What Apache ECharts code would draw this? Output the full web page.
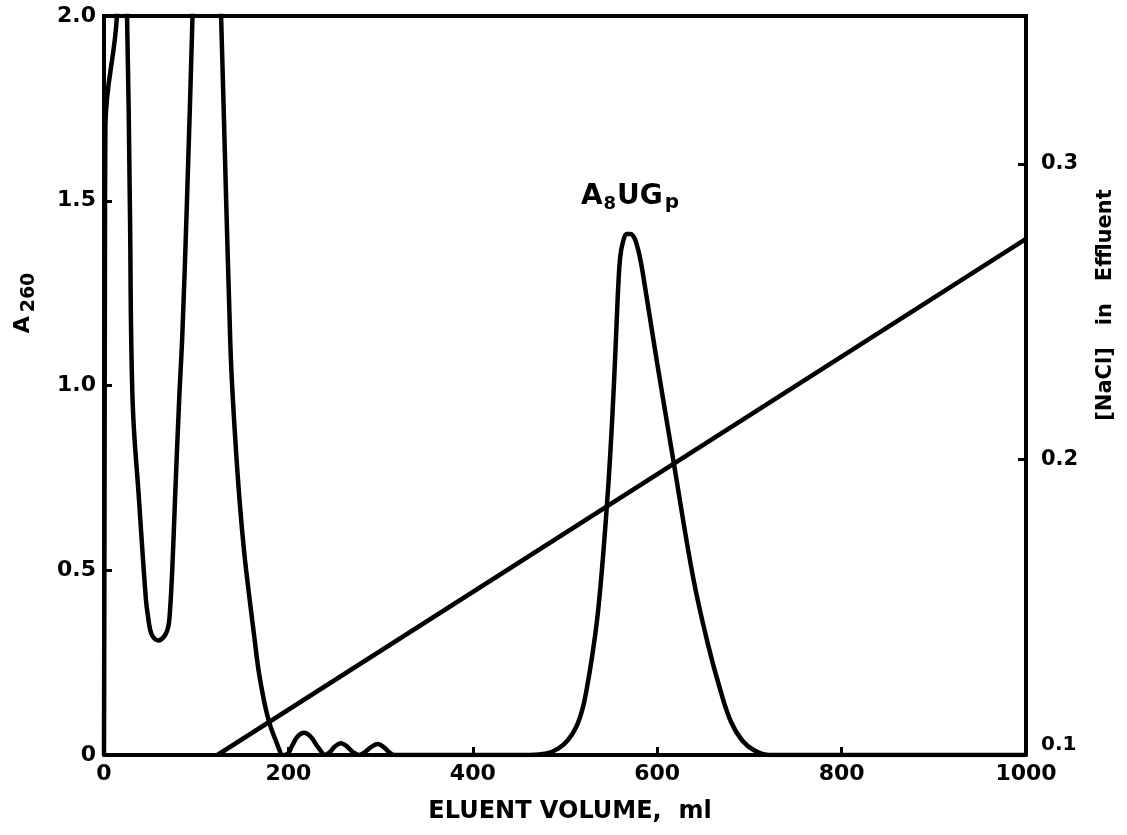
<!DOCTYPE html>
<html>
<head>
<meta charset="utf-8">
<script src="https://cdn.jsdelivr.net/npm/echarts@6/dist/echarts.min.js"></script>
<style>
html,body{margin:0;padding:0;background:#fff;}
#chart{width:1127px;height:835px;}
</style>
</head>
<body>
<div id="chart"></div>
<script>
// Eluent volume (ml) and A260 absorbance
const volume = [0,0.5,1,1.5,14,19,25,28,31,38,45.5,48,50,53,59,65,69,71,74,77,81.5,85,90,96,100,110,122,127,132.5,136,138,142,147,152,158,163,167,171,175,179,183,187,190,193,
  196,200,204,210,217,224,231,236,239,245,250,257,264,270,277,283,290,297,304,310,315,400,462,
  480,493,503,512,519,524,529,535,540,545,549,553,556,558,560,563,567,571,575,578,581,584,600,618,639,655,668,680,692,705,722,800,1000];
const a260 = [0,0.6,1.3,1.7,2.0,2.5,2.0,1.5,0.96,0.69,0.42,0.37,0.34,0.32,0.31,0.32,0.34,0.37,0.5,0.69,0.96,1.14,1.5,2.0,2.4,2.6,2.4,2.0,1.5,1.2,1.05,0.87,0.69,0.55,0.42,0.32,0.24,0.18,0.13,0.09,0.06,0.035,0.015,0,
  0,0.005,0.025,0.05,0.06,0.05,0.025,0.008,0,0.008,0.022,0.032,0.022,0.008,0,0.008,0.022,0.03,0.02,0.006,0,0,0,
  0.004,0.018,0.04,0.075,0.125,0.185,0.26,0.37,0.5,0.66,0.81,1.0,1.17,1.28,1.35,1.39,1.41,1.41,1.40,1.38,1.35,1.31,1.06,0.79,0.48,0.30,0.18,0.09,0.04,0.013,0,0,0];
// NaCl gradient (M) in effluent
const gradVolume = [123, 1000];
const nacl = [0.1, 0.2746];
// tick labels
const xTicks = [0, 200, 400, 600, 800, 1000];
const leftTicks = [0, 0.5, 1.0, 1.5, 2.0];
const rightTicks = [0.1, 0.2, 0.3];

const chart = echarts.init(document.getElementById('chart'));
const font = '"DejaVu Sans", sans-serif';
const lbl = {color:'#000', fontFamily:font, fontWeight:'bold', fontSize:22};

chart.setOption({
  animation:false,
  backgroundColor:'#fff',
  grid:{left:104, right:101, top:16, bottom:80, show:false},
  xAxis:{
    type:'value', min:0, max:1000, interval:200,
    axisLine:{show:true, lineStyle:{color:'#000', width:4}},
    axisTick:{show:true, inside:true, length:8, lineStyle:{color:'#000', width:3}},
    splitLine:{show:false},
    axisLabel:Object.assign({margin:8, formatter:v=> xTicks.includes(v)? String(v):''}, lbl)
  },
  yAxis:[{
    type:'value', min:0, max:2.0, interval:0.5,
    axisLine:{show:true, onZero:false, lineStyle:{color:'#000', width:4}},
    axisTick:{show:true, inside:true, length:8, lineStyle:{color:'#000', width:3}},
    splitLine:{show:false},
    axisLabel:Object.assign({margin:8, formatter:v=>{
      if(!leftTicks.some(t=>Math.abs(t-v)<1e-9)) return '';
      return v===0 ? '0' : v.toFixed(1);
    }}, lbl)
  },{
    type:'value', min:0.1, max:0.35, interval:0.1, position:'right',
    axisLine:{show:true, onZero:false, lineStyle:{color:'#000', width:4}},
    axisTick:{show:true, inside:true, length:8, lineStyle:{color:'#000', width:3}},
    splitLine:{show:false},
    axisLabel:Object.assign({margin:15, formatter:v=>{
      if(!rightTicks.some(t=>Math.abs(t-v)<1e-9)) return '';
      return Math.abs(v-0.1)<1e-9 ? '{b|0.1}' : v.toFixed(1);
    }, rich:{b:{fontFamily:font, fontWeight:'bold', fontSize:20, color:'#000', padding:[0,0,20,0]}}}, lbl, {fontSize:21})
  }],
  graphic:[
    {type:'line', shape:{x1:102,y1:16,x2:1028,y2:16}, style:{stroke:'#000', lineWidth:4}},
    {type:'text', x:570, y:812, style:{text:'ELUENT VOLUME,  ml', fill:'#000', align:'center', verticalAlign:'middle', font:'bold 24px "DejaVu Sans", sans-serif'}},
    {type:'text', x:23, y:303, rotation:Math.PI/2, style:{
      text:'{a|A}{s|260}', fill:'#000', align:'center', verticalAlign:'middle',
      rich:{a:{font:'bold 22px "DejaVu Sans", sans-serif', fill:'#000'}, s:{font:'bold 19px "DejaVu Sans", sans-serif', fill:'#000', padding:[12,0,0,4]}}}},
    {type:'text', x:1106, y:305, rotation:Math.PI/2, style:{
      text:'[NaCl]   in   Effluent', fill:'#000', align:'center', verticalAlign:'middle',
      font:'bold 21px "DejaVu Sans", sans-serif'}},
    {type:'text', x:630, y:197, style:{
      text:'{a|A}{s|8}{a|UG}{p|p}', align:'center', verticalAlign:'middle',
      rich:{a:{font:'bold 28px "DejaVu Sans", sans-serif', fill:'#000'}, s:{font:'bold 18px "DejaVu Sans", sans-serif', fill:'#000', padding:[14,1,0,1]},
            p:{font:'bold 20px "DejaVu Sans", sans-serif', fill:'#000', padding:[12,0,0,2]}}}}
  ],
  series:[{
    type:'line', yAxisIndex:0, showSymbol:false, smooth:0.4, clip:true,
    lineStyle:{color:'#000', width:4.5},
    data: volume.map((v,i)=>[v, a260[i]])
  },{
    type:'line', yAxisIndex:1, showSymbol:false, clip:true,
    lineStyle:{color:'#000', width:4.5},
    data: gradVolume.map((v,i)=>[v, nacl[i]])
  }]
});
</script>
</body>
</html>
